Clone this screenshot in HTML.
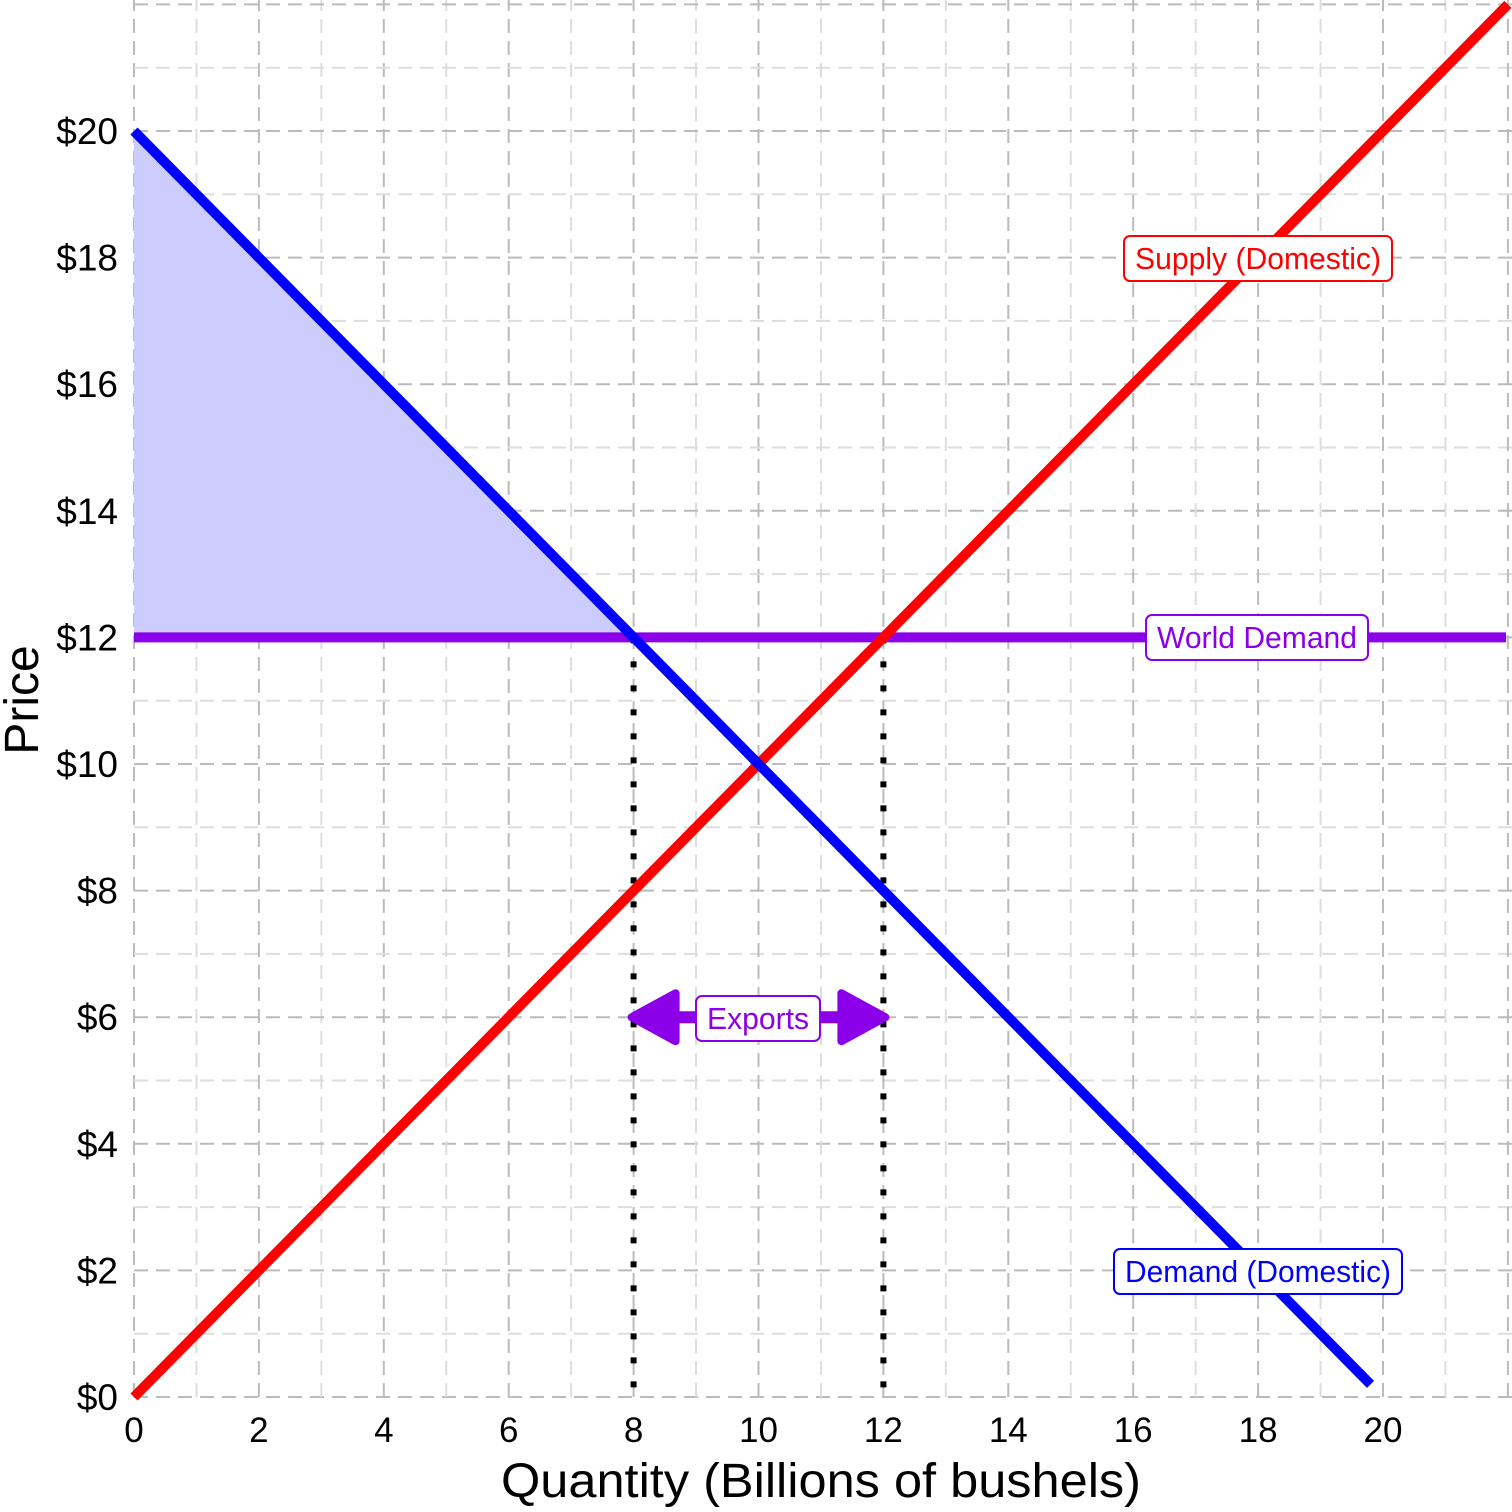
<!DOCTYPE html>
<html><head><meta charset="utf-8"><style>
html,body{margin:0;padding:0;background:#fff;width:1512px;height:1512px;overflow:hidden}
svg{display:block;font-family:"Liberation Sans Narrow","Liberation Sans",sans-serif}
</style></head><body>
<svg id="chart" width="1512" height="1512" viewBox="0 0 1512 1512"></svg>
<script>
const xTicks=[0,2,4,6,8,10,12,14,16,18,20];
const yTicks=[0,2,4,6,8,10,12,14,16,18,20];
const supplyPts=[[0,0],[22,22]];
const demandPts=[[0,20],[19.8,0.2]];
const worldPrice=12;
const exportsRange=[8,12];
const exportsY=6;
const NS="http://www.w3.org/2000/svg";
const svg=document.getElementById('chart');
const X=v=>134+v*62.45, Y=v=>1397-v*63.3;
function el(t,a,p){const e=document.createElementNS(NS,t);for(const k in a)e.setAttribute(k,a[k]);(p||svg).appendChild(e);return e;}
const grid=el('g',{});


for(let i=0;i<=22;i++){
  const major=i%2===0;
  el('line',{x1:X(i),x2:X(i),y1:Y(0),y2:0,stroke:major?'#bbb':'#ddd','stroke-width':2,'stroke-dasharray':'14,8'},grid);
  el('line',{x1:X(0),x2:1512,y1:Y(i),y2:Y(i),stroke:major?'#bbb':'#ddd','stroke-width':2,'stroke-dasharray':'14,8'},grid);
}
const cs=el('polygon',{points:`${X(0)},${Y(20)} ${X(worldPrice===12?8:8)},${Y(worldPrice)} ${X(0)},${Y(worldPrice)}`,fill:'#ccccff'});


// shading from demand intercept at world price
const qd=20-worldPrice;
cs.setAttribute('points',`${X(0)},${Y(20)} ${X(qd)},${Y(worldPrice)} ${X(0)},${Y(worldPrice)}`);
exportsRange.forEach(q=>{
  const d=el('line',{x1:X(q),x2:X(q),y1:Y(worldPrice),y2:Y(0),stroke:'#000','stroke-width':6,'stroke-dasharray':'6,18'});
  
  
});
const wd=el('line',{x1:X(0),x2:1506,y1:Y(worldPrice),y2:Y(worldPrice),stroke:'#8b00e8','stroke-width':10});


const sl=el('line',{x1:X(supplyPts[0][0]),y1:Y(supplyPts[0][1]),x2:X(supplyPts[1][0]),y2:Y(supplyPts[1][1]),stroke:'#ff0000','stroke-width':10});


const dl=el('line',{x1:X(demandPts[0][0]),y1:Y(demandPts[0][1]),x2:X(demandPts[1][0]),y2:Y(demandPts[1][1]),stroke:'#0000ff','stroke-width':10});


// exports arrow
const ay=Y(exportsY), ax1=X(exportsRange[0]), ax2=X(exportsRange[1]);
const arr=el('g',{fill:'#8b00e8',stroke:'#8b00e8','stroke-linejoin':'round','stroke-width':8});


el('line',{x1:ax1+40,x2:ax2-40,y1:ay,y2:ay,'stroke-width':12},arr);
el('polygon',{points:`${ax1-2},${ay} ${ax1+42},${ay-24} ${ax1+42},${ay+24}`},arr);
el('polygon',{points:`${ax2+2},${ay} ${ax2-42},${ay-24} ${ax2-42},${ay+24}`},arr);
function label(txt,cx,cy,w,color,name){
  const g=el('g',{});
  
  
  el('rect',{x:cx-w/2,y:cy-22,width:w,height:45,rx:6,fill:'#fff',stroke:color,'stroke-width':2},g);
  const t=el('text',{x:cx,y:cy+11,'text-anchor':'middle','font-size':31,fill:color,textLength:w-22,lengthAdjust:'spacingAndGlyphs'},g);
  t.textContent=txt;
}
label('Supply (Domestic)',1258,258,268,'#ff0000','supply-label');
label('World Demand',1257,637,222,'#8b00e8','world-demand-label');
label('Demand (Domestic)',1258,1271,288,'#0000ff','demand-label');
label('Exports',758,1018,124,'#8b00e8','exports-label');
xTicks.forEach(v=>{
  const t=el('text',{x:X(v),y:1442,'text-anchor':'middle','font-size':35,fill:'#000'});
  
  
  t.textContent=v;
});
yTicks.forEach(v=>{
  const t=el('text',{x:118,y:Y(v)+13,'text-anchor':'end','font-size':37,fill:'#000'});
  
  
  t.textContent='$'+v;
});
const xt=el('text',{x:821,y:1497,'text-anchor':'middle','font-size':48,fill:'#000',textLength:640,lengthAdjust:'spacingAndGlyphs'});


xt.textContent='Quantity (Billions of bushels)';
const yt=el('text',{x:0,y:0,'text-anchor':'middle','font-size':48,fill:'#000',transform:'translate(38,700) rotate(-90)'});


yt.textContent='Price';
</script>
</body></html>
